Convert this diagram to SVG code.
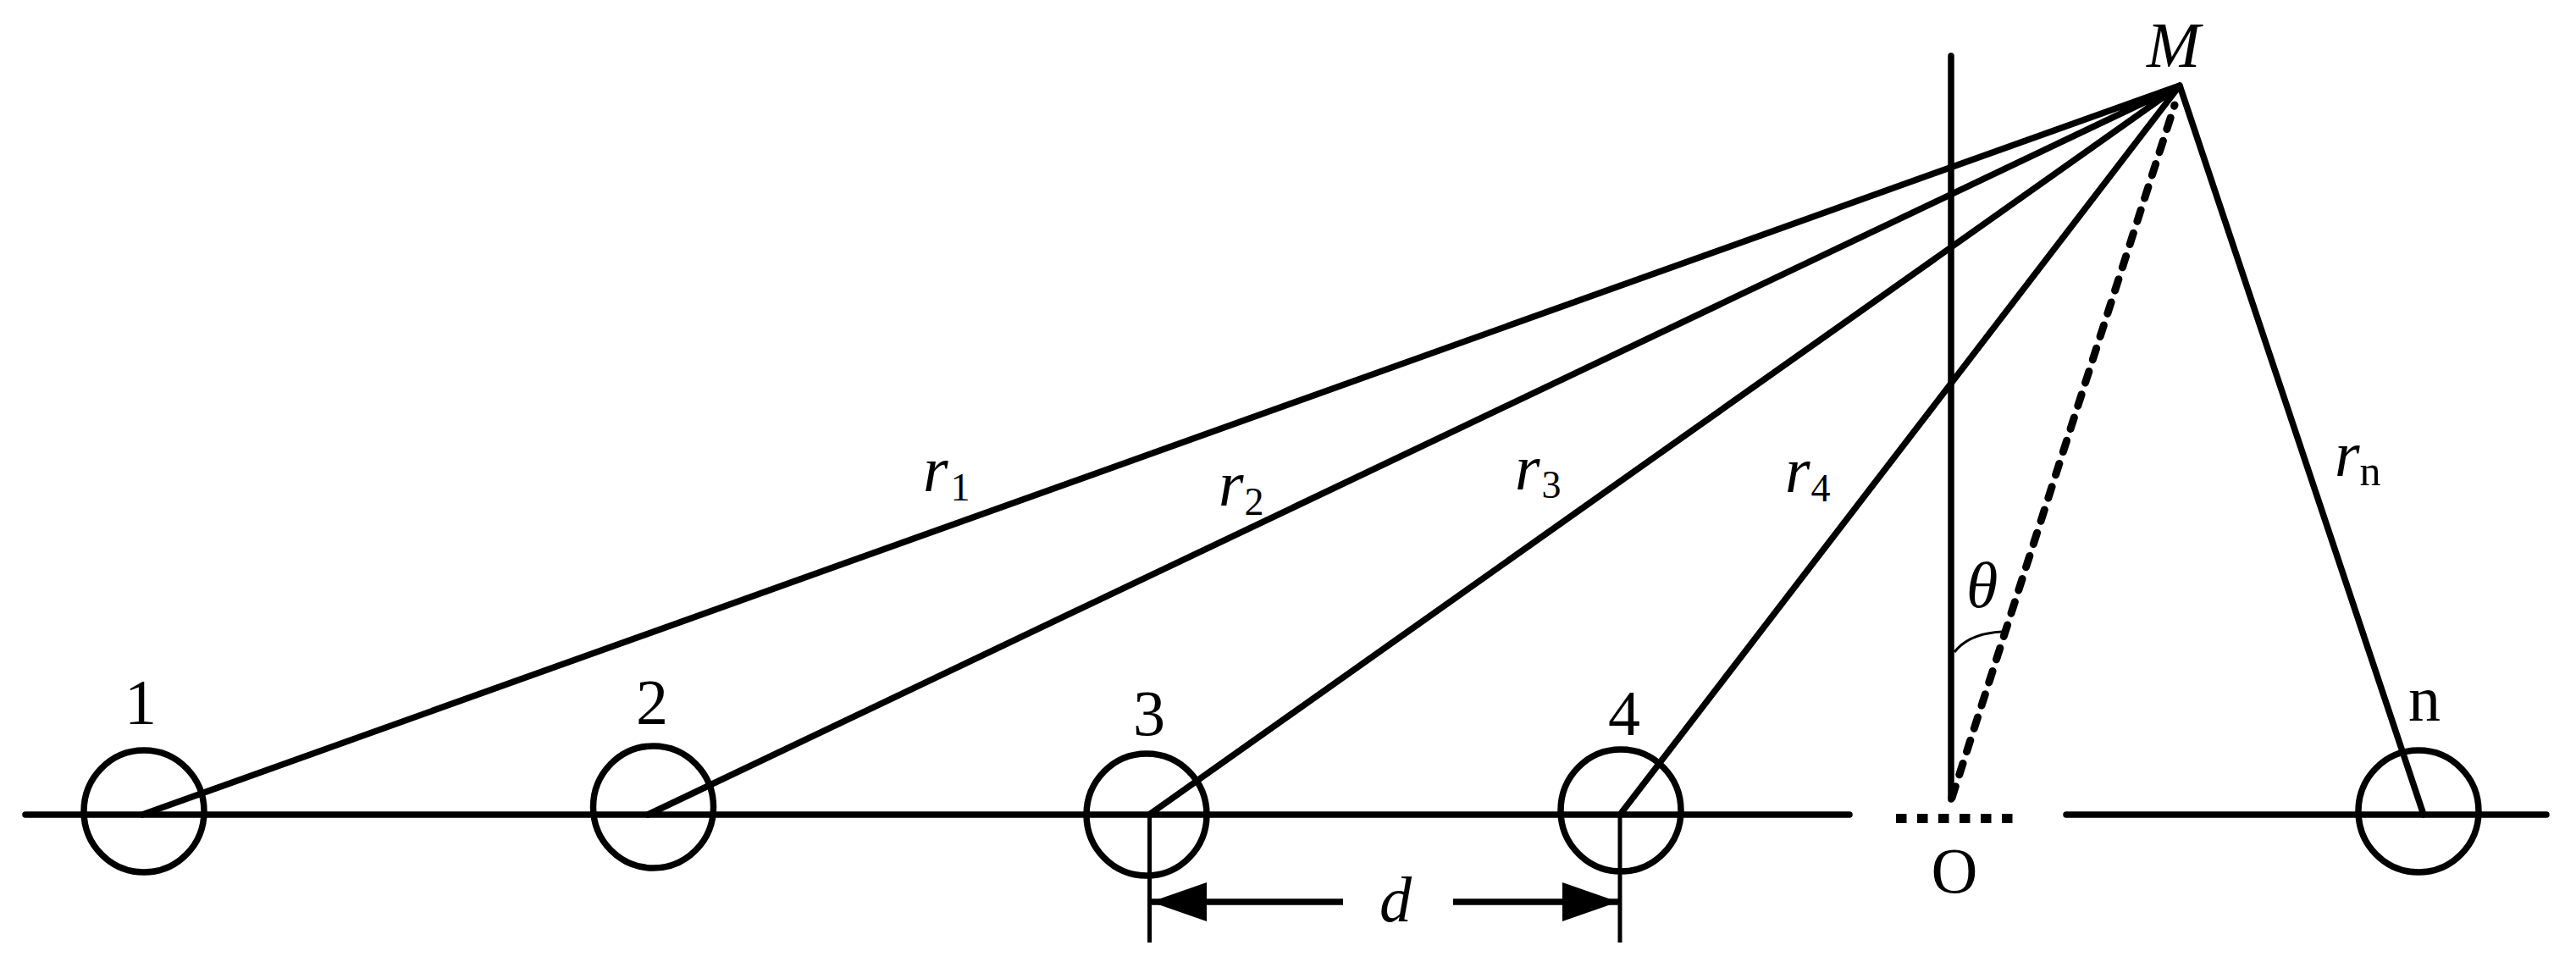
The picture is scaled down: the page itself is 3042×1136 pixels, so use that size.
<svg xmlns="http://www.w3.org/2000/svg" width="3042" height="1136" viewBox="0 0 3042 1136">
<style>
text{font-family:"Liberation Serif","Times New Roman",serif;font-size:76px;fill:#000}
.i{font-style:italic}
.s{font-size:46px;font-style:normal}
.c{fill:none;stroke:#000;stroke-width:7.5}
.l{fill:none;stroke:#000;stroke-width:7.5;stroke-linecap:round}
.t{fill:none;stroke:#000;stroke-width:5}
.m{text-anchor:middle}
</style>
<defs>
<marker id="ah" markerUnits="userSpaceOnUse" markerWidth="68" markerHeight="46" refX="66" refY="23" orient="auto"><polygon points="0,0 66,23 0,46" fill="#000"/></marker>
</defs>
<rect width="3042" height="1136" fill="#fff"/>
<g id="connectors">
<path class="l" d="M30 962H2184M2440 962H3007"/>
<path class="l" d="M2304 66V944"/>
<path class="l" d="M168 962L2574 101M765 962L2574 101M1357 962L2574 101M1913 962L2574 101M2862 962L2574 101"/>
<path fill="none" stroke="#000" stroke-width="9" stroke-linecap="round" stroke-dasharray="14 14.6" d="M2305 942L2568 124"/>
<path fill="none" stroke="#000" stroke-width="11" stroke-dasharray="12.5 12.5" d="M2239 966.5H2377"/>
<path fill="none" stroke="#000" stroke-width="3" d="M2308 770Q2325 748 2364 746"/>
<path class="t" d="M1357.5 962V1113M1913 962V1113"/>
<path class="l" style="stroke-linecap:butt" marker-end="url(#ah)" d="M1586 1065H1359"/>
<path class="l" style="stroke-linecap:butt" marker-end="url(#ah)" d="M1716 1065H1911"/>
</g>
<g id="node-1"><ellipse class="c" cx="170" cy="958" rx="71" ry="72"/><text class="m" x="166" y="855">1</text></g>
<g id="node-2"><ellipse class="c" cx="771.5" cy="953" rx="71" ry="72"/><text class="m" x="770" y="855">2</text></g>
<g id="node-3"><ellipse class="c" cx="1354" cy="962" rx="71" ry="72"/><text class="m" x="1357" y="868">3</text></g>
<g id="node-4"><ellipse class="c" cx="1914" cy="957" rx="71" ry="72"/><text class="m" x="1918" y="868">4</text></g>
<g id="node-n"><ellipse class="c" cx="2856" cy="958" rx="71" ry="72"/><text class="m" x="2863" y="851">n</text></g>
<g id="node-O"><text class="m" x="2308" y="1054">O</text></g>
<g id="node-M"><text class="i" x="2535" y="79">M</text></g>
<g id="labels">
<text class="i" x="1090" y="580">r<tspan class="s" dx="3" dy="11">1</tspan></text>
<text class="i" x="1439" y="597">r<tspan class="s" dx="1" dy="11">2</tspan></text>
<text class="i" x="1789" y="578">r<tspan class="s" dx="2" dy="10">3</tspan></text>
<text class="i" x="2108" y="581">r<tspan class="s" dx="1" dy="11">4</tspan></text>
<text class="i" x="2757" y="562">r<tspan class="s" style="font-size:50px" dy="11">n</tspan></text>
<text class="i" x="2322" y="717">θ</text>
<text class="i m" x="1648" y="1088">d</text>
</g>
</svg>
